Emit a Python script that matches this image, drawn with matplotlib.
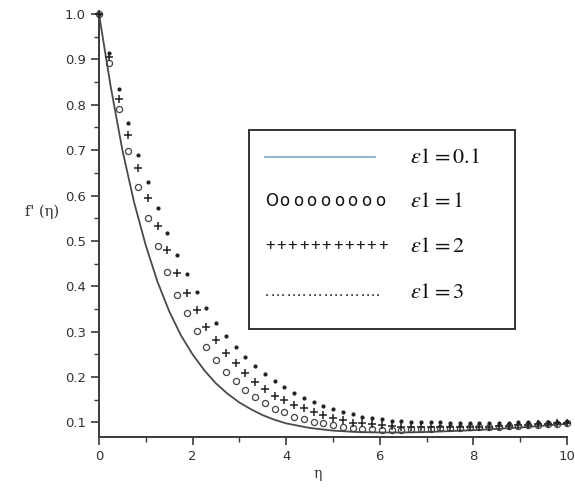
import numpy as np
import matplotlib
matplotlib.use("Agg")
import matplotlib.pyplot as plt
from matplotlib.patches import Rectangle
from matplotlib.ticker import MultipleLocator

# Solid curve, eps1 = 0.1
eta_line = [0.0, 0.25, 0.5, 0.75, 1.0, 1.25, 1.5, 1.75, 2.0, 2.25, 2.5, 2.75,
            3.0, 3.25, 3.5, 3.75, 4.0, 4.5, 5.0, 5.5, 6.0, 6.5, 7.0, 7.5,
            8.0, 8.5, 9.0, 9.5, 10.0]
f_eps01 = [1.0, 0.84, 0.70, 0.585, 0.49, 0.41, 0.345, 0.292, 0.25, 0.215,
           0.186, 0.163, 0.144, 0.129, 0.116, 0.106, 0.098, 0.088, 0.082,
           0.079, 0.078, 0.078, 0.079, 0.081, 0.083, 0.086, 0.089, 0.093, 0.097]

# Marker series, sampled on 49 equally spaced eta values
eta_pts = np.linspace(0, 10, 49)
f_eps1 = [1.0, 0.892, 0.79, 0.698, 0.619, 0.55, 0.488, 0.432, 0.38, 0.341,
          0.302, 0.267, 0.238, 0.212, 0.192, 0.172, 0.157, 0.142, 0.129, 0.122,
          0.113, 0.107, 0.102, 0.098, 0.094, 0.091, 0.088, 0.086, 0.085, 0.084,
          0.084, 0.084, 0.085, 0.085, 0.086, 0.087, 0.087, 0.088, 0.089, 0.090,
          0.090, 0.091, 0.092, 0.093, 0.094, 0.095, 0.096, 0.097, 0.098]
f_eps2 = [1.0, 0.905, 0.813, 0.733, 0.66, 0.595, 0.533, 0.479, 0.429, 0.386,
          0.348, 0.311, 0.282, 0.254, 0.231, 0.209, 0.190, 0.173, 0.159, 0.150,
          0.139, 0.131, 0.122, 0.117, 0.109, 0.106, 0.098, 0.098, 0.096, 0.094,
          0.092, 0.091, 0.090, 0.089, 0.089, 0.089, 0.089, 0.089, 0.090, 0.090,
          0.091, 0.092, 0.093, 0.094, 0.095, 0.096, 0.097, 0.098, 0.099]
f_eps3 = [1.0, 0.915, 0.835, 0.76, 0.69, 0.63, 0.573, 0.518, 0.469, 0.427,
          0.388, 0.352, 0.32, 0.29, 0.267, 0.245, 0.225, 0.207, 0.192, 0.179,
          0.164, 0.153, 0.145, 0.137, 0.129, 0.123, 0.118, 0.112, 0.109, 0.107,
          0.104, 0.103, 0.102, 0.101, 0.100, 0.100, 0.099, 0.099, 0.099, 0.099,
          0.099, 0.099, 0.099, 0.100, 0.100, 0.100, 0.100, 0.101, 0.101]

legend_labels = [r"$\varepsilon 1 = 0.1$", r"$\varepsilon 1 = 1$",
                 r"$\varepsilon 1 = 2$", r"$\varepsilon 1 = 3$"]
legend_keys = ["Ooooooooo", "+++++++++++", "......................"]

plt.rcParams["mathtext.fontset"] = "stix"
ink = "#3a3a3a"

fig = plt.figure(figsize=(5.75, 4.88), dpi=100)
ax = fig.add_axes([99 / 575, 1 - 437 / 488, 468 / 575, 423 / 488])

ax.plot(eta_line, f_eps01, color="#4a4a4a", lw=1.3, zorder=3)
ax.plot(eta_pts, f_eps1, ls="none", marker="o", ms=4.4, mfc="none",
        mec="#444444", mew=0.9, zorder=4, clip_on=False)
ax.plot(eta_pts, f_eps2, ls="none", marker="+", ms=5.5, mec="#222222",
        mew=1.1, zorder=4, clip_on=False)
ax.plot(eta_pts, f_eps3, ls="none", marker="o", ms=2.0, mfc="#222222",
        mec="#222222", zorder=4, clip_on=False)

ax.set_xlim(0, 10)
ax.set_ylim(0.068, 1.0)
ax.xaxis.set_major_locator(MultipleLocator(2))
ax.xaxis.set_minor_locator(MultipleLocator(1))
ax.yaxis.set_minor_locator(MultipleLocator(0.05))
ax.set_yticks(np.arange(0.1, 1.01, 0.1))
ax.set_yticklabels([f"{v:.1f}" for v in np.arange(0.1, 1.01, 0.1)])

for side in ("top", "right"):
    ax.spines[side].set_visible(False)
for side in ("left", "bottom"):
    ax.spines[side].set_color(ink)
    ax.spines[side].set_linewidth(1.4)

ax.tick_params(which="major", direction="out", length=6, width=1.2,
               colors=ink, labelsize=9.5, labelcolor="#333333")
ax.tick_params(which="minor", direction="out", length=3.5, width=1.0,
               colors=ink)
for lab in ax.get_xticklabels() + ax.get_yticklabels():
    lab.set_family("DejaVu Sans")

fig.text(25 / 575, 1 - 212 / 488, "f' (\u03b7)", family="DejaVu Serif",
         fontsize=10.5, color="#333333", ha="left", va="center")
fig.text(318 / 575, 1 - 474 / 488, "\u03b7", family="DejaVu Serif",
         fontsize=10, color="#333333", ha="center", va="center")


# Legend panel drawn in figure pixel coordinates
def fx(px):
    return px / 575


def fy(py):
    return 1 - py / 488


box_l, box_r, box_t, box_b = 249, 515, 130, 329
fig.patches.append(Rectangle((fx(box_l), fy(box_b)), fx(box_r) - fx(box_l),
                             fy(box_t) - fy(box_b), transform=fig.transFigure,
                             facecolor="white", edgecolor="#333333",
                             lw=1.4, zorder=5))
rows = [157, 201, 246, 292]
fig.lines.append(plt.Line2D([fx(265), fx(375)], [fy(rows[0]), fy(rows[0])],
                            transform=fig.transFigure, color="#8aaed0",
                            lw=1.3, zorder=6))


def spread_text(text, row, x_first, x_rest, x_last, fs, fam):
    """Place the characters of a key string one by one along a row."""
    n = len(text)
    for i, ch in enumerate(text):
        if i == 0:
            xpos = x_first
        else:
            xpos = x_rest + (x_last - x_rest) * (i - 1) / (n - 2)
        fig.text(fx(xpos), fy(row), ch, family=fam, fontsize=fs,
                 color="#111111", ha="left", va="center", zorder=6)


spread_text(legend_keys[0], rows[1], 265, 279, 375, 12, "DejaVu Sans")
spread_text(legend_keys[1], rows[2], 265, 276.3, 378, 12, "Liberation Sans")
spread_text(legend_keys[2], rows[3], 265, 270.4, 376, 11, "Liberation Sans")

for lab, row in zip(legend_labels, rows):
    fig.text(fx(410), fy(row), lab, fontsize=16, color="#111111",
             ha="left", va="center", zorder=6)

fig.savefig("out.png", dpi=100)
